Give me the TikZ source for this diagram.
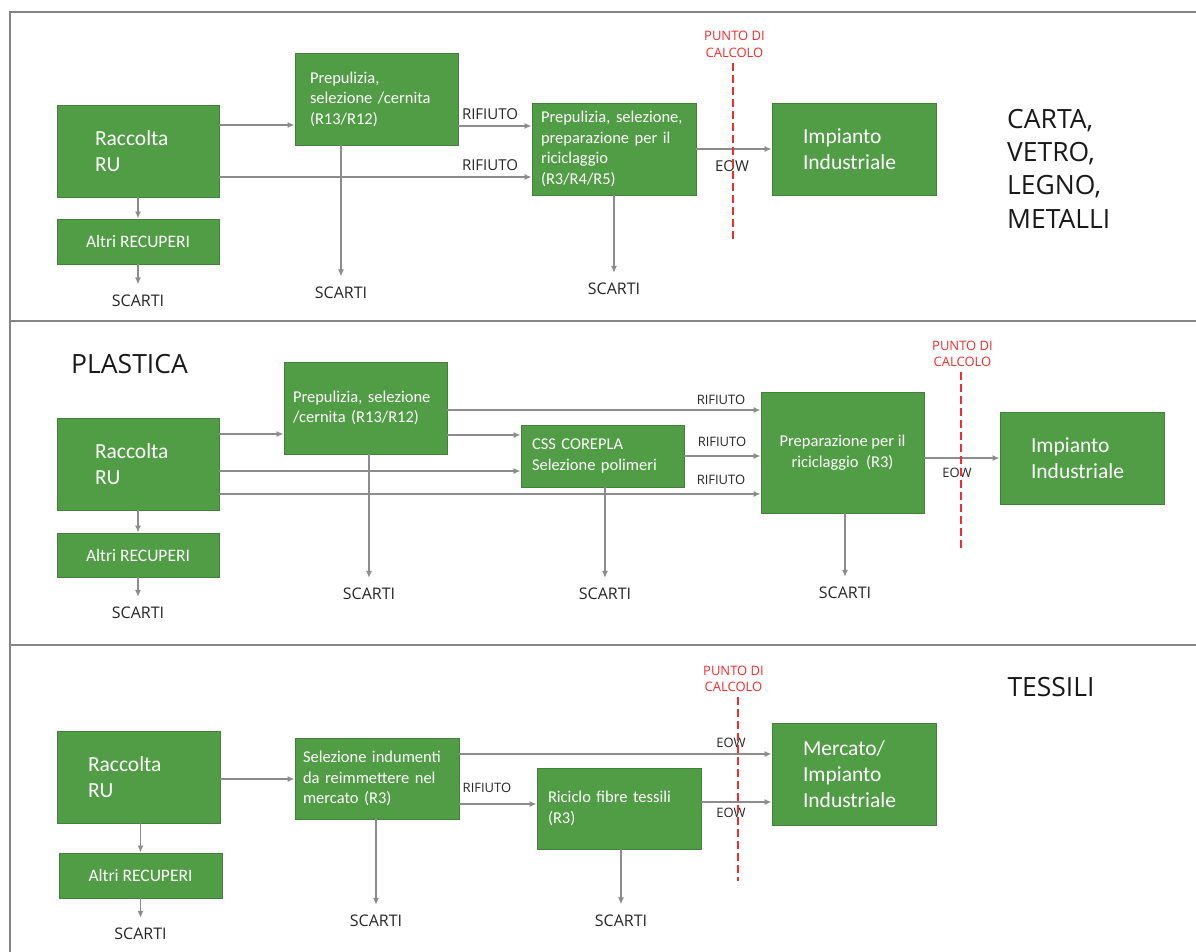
\documentclass[tikz,border=0pt]{standalone}
\usepackage{fontspec}
\setmainfont{Carlito}
\newfontfamily\labelfont{Open Sans}
\usetikzlibrary{positioning,arrows.meta}
\definecolor{boxgreen}{HTML}{519D45}
\definecolor{boxedge}{HTML}{41813A}
\definecolor{linegray}{HTML}{8C8C8C}
\definecolor{framegray}{HTML}{858585}
\definecolor{calcred}{HTML}{F52C2C}

\begin{document}
\begin{tikzpicture}[x=1pt, y=-1pt]
        % Define block styles
        \tikzstyle{block} = [rectangle, draw=boxedge, line width=0.8pt, fill=boxgreen, text=white, inner sep=0pt, align=left, font=\fontsize{16.5}{20.5}\selectfont]
        \tikzstyle{bigblock} = [block, font=\fontsize{21.5}{26}\selectfont]
        \tikzstyle{altriblock} = [block, align=center, minimum width=162pt, minimum height=45pt, font=\fontsize{17.5}{20}\selectfont]
        \tikzstyle{line} = [draw=linegray, line width=1.5pt, -{Latex[length=7pt,width=6pt]}]
        \tikzstyle{sepline} = [draw=framegray, line width=1.8pt]
        \tikzstyle{cutline} = [draw=calcred, line width=2pt, dash pattern=on 8pt off 4pt]
        \tikzstyle{scarti} = [font=\labelfont\fontsize{16}{18}\selectfont, text=black!85, inner ysep=10pt]
        \tikzstyle{flowtag} = [font=\labelfont\fontsize{13}{16}\selectfont, text=black!85, inner sep=0pt]
        \tikzstyle{flowtagl} = [font=\labelfont\fontsize{15}{18}\selectfont, text=black!85, inner sep=0pt]
        \tikzstyle{calctext} = [font=\labelfont\fontsize{13}{16.5}\selectfont, text=calcred, align=center, inner sep=0pt]
        \tikzstyle{title} = [font=\labelfont\fontsize{26.5}{33.3}\selectfont, text=black!90, align=left, inner sep=0pt]

        \useasboundingbox (0,0) rectangle (1196,952);

        % Frame
        \draw [sepline] (10,952) -- (10,12) -- (1196,12);
        \draw [sepline] (10,321) -- (1196,321);
        \draw [sepline] (10,645) -- (1196,645);

        % Nodes: carta, vetro, legno, metalli
        \node [bigblock, minimum width=162pt, minimum height=92pt, text width=86pt] (racc1) at (138,151) {Raccolta\\RU};
        \node [altriblock] (altri1) at (138,241.5) {Altri RECUPERI};
        \node [block, minimum width=163pt, minimum height=92pt, text width=133pt] (prep1) at (376.5,99) {Prepulizia,\\selezione /cernita\\(R13/R12)};
        \node [block, minimum width=164pt, minimum height=92pt, text width=146pt] (prep2) at (614,149) {Prepulizia, selezione,\\preparazione per il\\riciclaggio\\(R3/R4/R5)};
        \node [bigblock, minimum width=164pt, minimum height=92pt, text width=102pt] (imp1) at (854,149) {Impianto\\Industriale};
        \node [scarti] (sc1a) at (138,300.5) {SCARTI};
        \node [scarti] (sc1b) at (341,292.5) {SCARTI};
        \node [scarti] (sc1c) at (614,289) {SCARTI};
        \node [title, anchor=west] (carta) at (1007,168.5) {CARTA,\\VETRO,\\LEGNO,\\METALLI};

        % Arrows
        \path [line] (racc1) -- (altri1);
        \path [line] (altri1) -- (sc1a);
        \path [line] (racc1.east |- 0,125) -- (prep1.west |- 0,125);
        \path [line] (racc1.east |- 0,177) -- (prep2.west |- 0,177);
        \path [line] (prep1.east |- 0,126) -- (prep2.west |- 0,126);
        \path [line] (prep1.south -| sc1b) -- (sc1b);
        \path [line] (prep2.south -| sc1c) -- (sc1c);
        \path [line] (prep2) -- (imp1);

        % Text labels
        \node [flowtagl] (rif1a) at (490,114) {RIFIUTO};
        \node [flowtagl] (rif1b) at (490,165.5) {RIFIUTO};
        \node [flowtagl] (eow1) at (732,166) {EOW};
        \node [calctext] (pc1) at (734.5,44.5) {PUNTO DI\\CALCOLO};
        \draw [cutline] (pc1.south) ++(-1.5,5) -- ++(0,176);

        % Nodes: plastica
        \node [title] (plastica) at (129.5,364) {PLASTICA};
        \node [bigblock, minimum width=162pt, minimum height=92pt, text width=86pt] (racc2) at (138,464) {Raccolta\\RU};
        \node [altriblock, minimum height=44pt] (altri2) at (138,555) {Altri RECUPERI};
        \node [block, minimum width=163pt, minimum height=92pt, text width=145pt] (prep3) at (365.5,408) {Prepulizia, selezione\\/cernita (R13/R12)};
        \node [block, minimum width=163pt, minimum height=62pt, text width=141pt] (css) at (602.5,456) {CSS COREPLA\\Selezione polimeri};
        \node [block, align=center, minimum width=163pt, minimum height=121pt] (prepar) at (842.5,452.5) {Preparazione per il\\riciclaggio~ (R3)};
        \node [bigblock, minimum width=164pt, minimum height=92pt, text width=102pt] (imp2) at (1082,458) {Impianto\\Industriale};
        \node [scarti] (sc2a) at (138,613) {SCARTI};
        \node [scarti] (sc2b) at (369,594) {SCARTI};
        \node [scarti] (sc2c) at (605,594) {SCARTI};
        \node [scarti] (sc2d) at (845,593) {SCARTI};

        % Arrows
        \path [line] (racc2) -- (altri2);
        \path [line] (altri2) -- (sc2a);
        \path [line] (racc2.east |- 0,434) -- (prep3.west |- 0,434);
        \path [line] (racc2.east |- 0,471) -- (css.west |- 0,471);
        \path [line] (racc2.east |- 0,494) -- (prepar.west |- 0,494);
        \path [line] (prep3.east |- 0,410) -- (prepar.west |- 0,410);
        \path [line] (prep3.east |- 0,435) -- (css.west |- 0,435);
        \path [line] (css.east |- 0,456) -- (prepar.west |- 0,456);
        \path [line] (prep3.south -| sc2b) -- (sc2b);
        \path [line] (css.south -| sc2c) -- (sc2c);
        \path [line] (prepar.south -| sc2d) -- (sc2d);
        \path [line] (prepar.east |- imp2) -- (imp2);

        % Text labels
        \node [flowtag] (rif2a) at (721,399.5) {RIFIUTO};
        \node [flowtag] (rif2b) at (722,442) {RIFIUTO};
        \node [flowtag] (rif2c) at (721,479.5) {RIFIUTO};
        \node [flowtag] (eow2) at (957,473) {EOW};
        \node [calctext] (pc2) at (962.5,354) {PUNTO DI\\CALCOLO};
        \draw [cutline] (pc2.south) ++(-1.5,5) -- ++(0,176);

        % Nodes: tessili
        \node [title] (tessili) at (1051,687.5) {TESSILI};
        \node [bigblock, minimum width=163pt, minimum height=92pt, text width=101pt] (racc3) at (138.5,777) {Raccolta\\RU};
        \node [altriblock, minimum width=163pt] (altri3) at (140.5,875.5) {Altri RECUPERI};
        \node [block, minimum width=164pt, minimum height=81pt, text width=148pt] (sel) at (377,778.5) {Selezione indumenti\\da reimmettere nel\\mercato (R3)};
        \node [block, minimum width=164pt, minimum height=81pt, text width=142pt] (ric) at (619,808.5) {Riciclo fibre tessili\\(R3)};
        \node [bigblock, minimum width=164pt, minimum height=102pt, text width=102pt] (merc) at (854,774) {Mercato/\\Impianto\\Industriale};
        \node [scarti] (sc3a) at (140.5,934) {SCARTI};
        \node [scarti] (sc3b) at (376,921) {SCARTI};
        \node [scarti] (sc3c) at (621,920.5) {SCARTI};

        % Arrows
        \path [line] (racc3.south -| altri3) -- (altri3);
        \path [line] (altri3) -- (sc3a);
        \path [line] (racc3.east |- 0,779) -- (sel.west |- 0,779);
        \path [line] (sel.east |- 0,754) -- (merc.west |- 0,754);
        \path [line] (sel.east |- 0,804) -- (ric.west |- 0,804);
        \path [line] (ric.east |- 0,802) -- (merc.west |- 0,802);
        \path [line] (sel.south -| sc3b) -- (sc3b);
        \path [line] (ric.south -| sc3c) -- (sc3c);

        % Text labels
        \node [flowtag] (eow3a) at (731,742.5) {EOW};
        \node [flowtag] (rif3) at (487,788) {RIFIUTO};
        \node [flowtag] (eow3b) at (731,813) {EOW};
        \node [calctext] (pc3) at (733.5,679) {PUNTO DI\\CALCOLO};
        \draw [cutline] (pc3.south) ++(4.5,5) -- ++(0,184);

    \end{tikzpicture}
\end{document}
